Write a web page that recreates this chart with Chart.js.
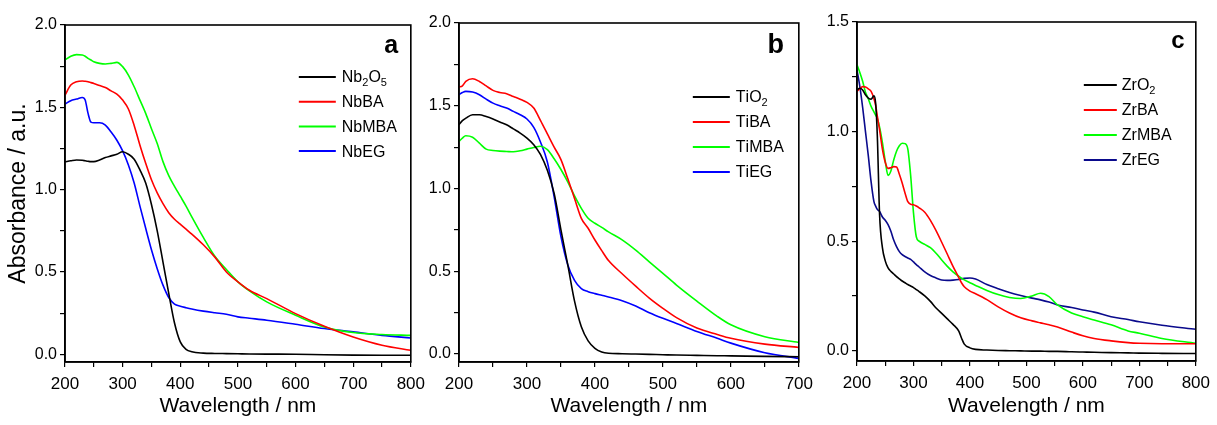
<!DOCTYPE html>
<html><head><meta charset="utf-8">
<script src="https://cdn.jsdelivr.net/npm/chart.js@4/dist/chart.umd.min.js"></script>
<style>
html,body{margin:0;padding:0;background:#fff;width:1217px;height:425px;overflow:hidden;}
.p{position:absolute;top:0;height:425px;}
canvas{display:block;}
</style></head><body>
<div class="p" style="left:0;width:432px"><canvas id="ca" width="432" height="425"></canvas></div>
<div class="p" style="left:420px;width:400px"><canvas id="cb" width="400" height="425"></canvas></div>
<div class="p" style="left:815px;width:402px"><canvas id="cc" width="402" height="425"></canvas></div>
<script>
// ---------- Panel a data (Nb) ----------
const wlA = [200,210,220,230,235,240,245,250,260,270,280,290,300,310,320,330,340,350,360,370,380,390,400,410,420,440,460,480,500,520,550,600,650,700,750,800];
const nb2o5 = [1.169,1.175,1.18,1.178,1.175,1.172,1.17,1.17,1.18,1.195,1.205,1.215,1.23,1.215,1.185,1.12,1.04,0.91,0.75,0.56,0.37,0.19,0.075,0.03,0.015,0.007,0.005,0.004,0.003,0.002,0.001,0,-0.003,-0.005,-0.006,-0.006];
const nbba = [1.574,1.635,1.655,1.66,1.658,1.655,1.65,1.645,1.632,1.62,1.6,1.58,1.544,1.49,1.39,1.27,1.16,1.06,0.98,0.915,0.86,0.82,0.79,0.76,0.73,0.665,0.59,0.5,0.44,0.389,0.338,0.247,0.17,0.105,0.055,0.024];
const nbmba = [1.787,1.81,1.82,1.818,1.81,1.797,1.787,1.777,1.767,1.763,1.767,1.773,1.747,1.696,1.625,1.544,1.463,1.37,1.28,1.17,1.085,1.02,0.96,0.9,0.835,0.71,0.595,0.515,0.44,0.385,0.318,0.237,0.166,0.132,0.12,0.115];
const nbeg = [1.52,1.54,1.55,1.56,1.544,1.463,1.41,1.406,1.406,1.392,1.35,1.30,1.235,1.15,1.04,0.9,0.765,0.635,0.52,0.42,0.345,0.305,0.292,0.283,0.275,0.262,0.252,0.243,0.227,0.219,0.207,0.182,0.156,0.136,0.115,0.099];
const labelsA = ['Nb₂O₅','NbBA','NbMBA','NbEG'];

// ---------- Panel b data (Ti) ----------
const wlB = [200,205,210,220,230,240,250,260,270,280,290,300,310,320,330,340,350,360,370,380,390,400,410,420,440,460,480,500,520,550,580,600,650,700];
const tio2 = [1.385,1.41,1.425,1.446,1.446,1.435,1.42,1.402,1.385,1.36,1.335,1.305,1.265,1.205,1.11,0.97,0.75,0.54,0.32,0.165,0.08,0.035,0.013,0.005,0.002,0,-0.002,-0.004,-0.006,-0.008,-0.01,-0.011,-0.014,-0.016];
const tiba = [1.613,1.62,1.647,1.663,1.647,1.62,1.593,1.58,1.573,1.556,1.54,1.52,1.486,1.41,1.33,1.25,1.175,1.06,0.94,0.82,0.76,0.689,0.625,0.565,0.485,0.41,0.338,0.276,0.22,0.157,0.118,0.095,0.06,0.04];
const timba = [1.284,1.305,1.319,1.31,1.274,1.238,1.23,1.226,1.224,1.222,1.228,1.238,1.248,1.255,1.235,1.18,1.115,1.04,0.955,0.88,0.82,0.79,0.765,0.738,0.69,0.628,0.557,0.488,0.417,0.32,0.228,0.177,0.105,0.07];
const tieg = [1.567,1.58,1.587,1.583,1.567,1.54,1.516,1.5,1.486,1.466,1.446,1.42,1.37,1.28,1.16,0.95,0.71,0.54,0.445,0.395,0.377,0.365,0.355,0.345,0.322,0.29,0.25,0.216,0.185,0.137,0.095,0.066,0.008,-0.026];
const labelsB = ['TiO₂','TiBA','TiMBA','TiEG'];

// ---------- Panel c data (Zr) ----------
const wlC = [200,205,210,215,220,225,230,233,236,240,245,250,255,260,265,270,275,280,285,290,295,300,305,310,320,330,340,350,360,370,380,385,390,400,410,430,450,470,490,510,525,540,555,580,600,620,650,680,700,740,800];
const zro2 = [1.19,1.198,1.19,1.168,1.153,1.148,1.163,1.13,0.98,0.62,0.47,0.41,0.378,0.362,0.35,0.338,0.328,0.318,0.31,0.302,0.295,0.288,0.279,0.27,0.25,0.225,0.195,0.17,0.145,0.12,0.09,0.058,0.03,0.013,0.006,0.003,0.001,0,-0.001,-0.002,-0.002,-0.003,-0.003,-0.005,-0.006,-0.007,-0.009,-0.01,-0.011,-0.012,-0.013];
const zrba = [1.183,1.196,1.205,1.203,1.195,1.183,1.15,1.12,1.07,1.008,0.92,0.86,0.832,0.835,0.84,0.838,0.805,0.765,0.72,0.68,0.668,0.666,0.66,0.652,0.632,0.595,0.548,0.495,0.44,0.385,0.335,0.31,0.292,0.272,0.26,0.233,0.2,0.172,0.15,0.136,0.127,0.118,0.108,0.085,0.068,0.056,0.045,0.037,0.034,0.032,0.032];
const zrmba = [1.305,1.27,1.23,1.18,1.15,1.115,1.09,1.075,1.06,1.02,0.95,0.865,0.8,0.82,0.87,0.91,0.935,0.947,0.945,0.92,0.8,0.63,0.52,0.5,0.485,0.47,0.445,0.414,0.385,0.36,0.34,0.331,0.323,0.31,0.298,0.275,0.256,0.243,0.238,0.25,0.262,0.247,0.209,0.172,0.155,0.14,0.118,0.09,0.08,0.056,0.034];
const zreg = [1.28,1.206,1.11,1.0,0.89,0.77,0.68,0.66,0.645,0.635,0.61,0.595,0.575,0.545,0.505,0.475,0.452,0.438,0.43,0.423,0.417,0.405,0.393,0.382,0.36,0.343,0.332,0.323,0.321,0.322,0.325,0.328,0.33,0.332,0.327,0.302,0.283,0.266,0.252,0.24,0.232,0.222,0.209,0.197,0.186,0.176,0.155,0.142,0.132,0.116,0.098];
const labelsC = ['ZrO₂','ZrBA','ZrMBA','ZrEG'];

// ---------- Axis ticks / titles ----------
const xTicksA = [200,250,300,350,400,450,500,550,600,650,700,750,800];
const xTicksB = [200,250,300,350,400,450,500,550,600,650,700];
const xTicksC = [200,250,300,350,400,450,500,550,600,650,700,750,800];
const yTicksAB = [0,0.25,0.5,0.75,1.0,1.25,1.5,1.75,2.0];
const yTicksC = [0,0.25,0.5,0.75,1.0,1.25,1.5];
const xTitle = 'Wavelength / nm';
const yTitle = 'Absorbance / a.u.';
const panelLetters = ['a','b','c'];

const colorsAB = ['#000000','#ff0000','#00ff00','#0000ff'];
const colorsC = ['#000000','#ff0000','#00ff00','#0a0a8c'];

const FONT = "'Liberation Sans', Arial, sans-serif";

function pts(xs, ys){ return xs.map((x,i)=>({x:x, y:ys[i]})); }

const framePlugin = {
  id:'frame',
  afterDatasetsDraw(chart){
    const {ctx, chartArea:a} = chart;
    ctx.save(); ctx.strokeStyle='#000'; ctx.lineWidth=1.6;
    ctx.strokeRect(a.left, a.top, a.right-a.left, a.bottom-a.top);
    ctx.restore();
  }
};

const SUB = {'₀':'0','₁':'1','₂':'2','₃':'3','₄':'4','₅':'5','₆':'6','₇':'7','₈':'8','₉':'9'};
function drawRich(ctx, text, x, y, size){
  let cx = x;
  for (const ch of text){
    if (SUB[ch]){
      ctx.font = Math.round(size*0.68)+'px '+FONT;
      ctx.fillText(SUB[ch], cx, y + size*0.32);
      cx += ctx.measureText(SUB[ch]).width;
    } else {
      ctx.font = size+'px '+FONT;
      ctx.fillText(ch, cx, y);
      cx += ctx.measureText(ch).width;
    }
  }
}

const legendPlugin = {
  id:'innerLegend',
  afterDraw(chart, args, o){
    const {ctx, chartArea:a} = chart;
    ctx.save();
    ctx.textBaseline='middle'; ctx.textAlign='left'; ctx.fillStyle='#000';
    chart.data.datasets.forEach((ds,i)=>{
      const y = a.top + o.dy + i*o.gap;
      const x0 = a.right - o.dx;
      ctx.strokeStyle = ds.borderColor; ctx.lineWidth = 2;
      ctx.beginPath(); ctx.moveTo(x0, y); ctx.lineTo(x0+o.len, y); ctx.stroke();
      drawRich(ctx, ds.label, x0+o.len+o.tx, y+1, o.size);
    });
    ctx.restore();
  }
};

const letterPlugin = {
  id:'letter',
  afterDraw(chart, args, o){
    const {ctx, chartArea:a} = chart;
    ctx.save();
    ctx.font = 'bold '+o.size+'px '+FONT;
    ctx.textAlign='center'; ctx.textBaseline='alphabetic'; ctx.fillStyle='#000';
    ctx.fillText(o.text, a.right - o.dx, a.top + o.dy);
    ctx.restore();
  }
};

function makeChart(id, c){
  const datasets = c.series.map((s,i)=>({
    label: c.labels[i], data: pts(c.wl, s), borderColor: c.colors[i],
    borderWidth: 1.6, pointRadius: 0, fill:false, cubicInterpolationMode:'monotone'
  }));
  const xLabel = v => (Math.abs(v % 100) < 1e-9 ? String(v) : '');
  const yLabel = v => (Math.abs(v*2 - Math.round(v*2)) < 1e-9 ? v.toFixed(1) : '');
  return new Chart(document.getElementById(id), {
    type:'line',
    data:{datasets},
    plugins:[framePlugin, legendPlugin, letterPlugin],
    options:{
      responsive:false, animation:false, devicePixelRatio:1,
      layout:{padding:{top:c.top, right:c.right, bottom:0, left:0}},
      plugins:{
        legend:{display:false}, tooltip:{enabled:false},
        innerLegend:c.legend, letter:c.letter
      },
      scales:{
        x:{
          type:'linear', min:c.xmin, max:c.xmax,
          afterBuildTicks: s => { s.ticks = c.xTicks.map(v=>({value:v})); },
          afterFit: s => { s.height = c.xh; },
          ticks:{callback:xLabel, autoSkip:false, maxRotation:0, padding:7, color:'#000',
                 font:{family:FONT, size:17}},
          grid:{display:true, drawOnChartArea:false, drawTicks:true, tickLength:5, color:'#000', lineWidth:1.2},
          border:{display:true, color:'#000', width:1.6},
          title:{display:true, text:xTitle, color:'#000', font:{family:FONT, size:21},
                 padding:{top:0, bottom:6}}
        },
        y:{
          type:'linear', min:c.ymin, max:c.ymax,
          afterBuildTicks: s => { s.ticks = c.yTicks.map(v=>({value:v})); },
          afterFit: s => { s.width = c.yw; },
          ticks:{callback:yLabel, autoSkip:false, padding:3, color:'#000',
                 font:{family:FONT, size:16}},
          grid:{display:true, drawOnChartArea:false, drawTicks:true, tickLength:5, color:'#000', lineWidth:1.2},
          border:{display:true, color:'#000', width:1.6},
          title:{display: !!c.yTitle, text:c.yTitle || '', color:'#000', font:{family:FONT, size:23},
                 padding:{top:5, bottom:0}}
        }
      }
    }
  });
}

makeChart('ca', {
  wl: wlA, series:[nb2o5, nbba, nbmba, nbeg], labels: labelsA, colors: colorsAB,
  xmin:200, xmax:800, xTicks:xTicksA, ymin:-0.047, ymax:2.0, yTicks:yTicksAB,
  yTitle: yTitle, top:25, right:20, yw:65, xh:63,
  legend:{dx:112, dy:52, gap:24.7, len:37, tx:6, size:16},
  letter:{text:panelLetters[0], dx:19.5, dy:28, size:25}
});
makeChart('cb', {
  wl: wlB, series:[tio2, tiba, timba, tieg], labels: labelsB, colors: colorsAB,
  xmin:200, xmax:700, xTicks:xTicksB, ymin:-0.048, ymax:2.0, yTicks:yTicksAB,
  yTitle: null, top:23, right:17, yw:39, xh:63,
  legend:{dx:106, dy:74, gap:25, len:37, tx:6, size:16},
  letter:{text:panelLetters[1], dx:23, dy:30, size:27}
});
makeChart('cc', {
  wl: wlC, series:[zro2, zrba, zrmba, zreg], labels: labelsC, colors: colorsC,
  xmin:200, xmax:800, xTicks:xTicksC, ymin:-0.047, ymax:1.5, yTicks:yTicksC,
  yTitle: null, top:22, right:14, yw:42, xh:64,
  legend:{dx:112, dy:63, gap:25, len:33, tx:5, size:16},
  letter:{text:panelLetters[2], dx:18, dy:26, size:24}
});
</script>
</body></html>
